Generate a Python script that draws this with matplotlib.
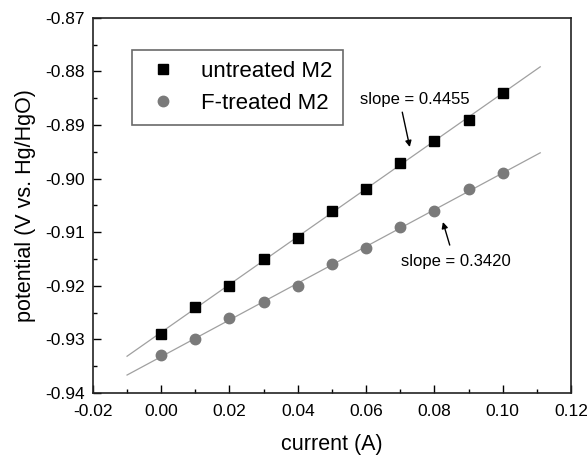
import numpy as np
import matplotlib
matplotlib.use('Agg')
import matplotlib.pyplot as plt
from matplotlib.ticker import MultipleLocator, FormatStrFormatter

plt.rcParams['font.family'] = ['Liberation Sans', 'DejaVu Sans']

# data
current = [0.000, 0.010, 0.020, 0.030, 0.040, 0.050, 0.060, 0.070, 0.080, 0.090, 0.100]
untreated = [-0.929, -0.924, -0.920, -0.915, -0.911, -0.906, -0.902, -0.897, -0.893, -0.889, -0.884]
f_treated = [-0.933, -0.930, -0.926, -0.923, -0.920, -0.916, -0.913, -0.909, -0.906, -0.902, -0.899]
fit_range = [-0.01, 0.111]
labels = ['untreated M2', 'F-treated M2']
slope_texts = ['slope = 0.4455', 'slope = 0.3420']

fig = plt.figure(figsize=(5.88, 4.58), dpi=100)
ax = fig.add_axes([0.158, 0.142, 0.813, 0.819])

xs = np.array(fit_range)
for y in (untreated, f_treated):
  k, b = np.polyfit(current, y, 1)
  ax.plot(xs, k * xs + b, color='#a0a0a0', lw=0.9, zorder=1)

ax.plot(current, untreated, 's', color='black', ms=7, label=labels[0], zorder=3)
ax.plot(current, f_treated, 'o', color='#7a7a7a', ms=7.5, label=labels[1], zorder=3)

arrow = dict(arrowstyle='-|>', color='black', lw=1, mutation_scale=9, shrinkA=0, shrinkB=0)
ax.text(0.0582, -0.8853, slope_texts[0], fontsize=12, va='center', ha='left')
ax.annotate('', xy=(0.0728, -0.8941), xytext=(0.0706, -0.8876), arrowprops=arrow)
ax.text(0.0863, -0.9155, slope_texts[1], fontsize=12, va='center', ha='center')
ax.annotate('', xy=(0.0825, -0.9081), xytext=(0.0845, -0.9124), arrowprops=arrow)

ax.set_xlim(-0.02, 0.12)
ax.set_ylim(-0.94, -0.87)
ax.xaxis.set_major_locator(MultipleLocator(0.02))
ax.xaxis.set_minor_locator(MultipleLocator(0.01))
ax.yaxis.set_major_locator(MultipleLocator(0.01))
ax.yaxis.set_minor_locator(MultipleLocator(0.005))
ax.xaxis.set_major_formatter(FormatStrFormatter('%.2f'))
ax.yaxis.set_major_formatter(FormatStrFormatter('%.2f'))
ax.tick_params(which='both', direction='in', top=False, right=False, labelsize=12.5)
ax.tick_params(axis='x', pad=8)
ax.tick_params(axis='y', pad=6)
ax.tick_params(which='major', length=6, width=1)
ax.tick_params(which='minor', length=3, width=1)
for s in ax.spines.values():
  s.set_color('#222222')
  s.set_linewidth(1.2)

ax.set_xlabel('current (A)', fontsize=15.5, labelpad=11)
ax.set_ylabel('potential (V vs. Hg/HgO)', fontsize=15.5, labelpad=6)

leg = ax.legend(loc='upper left', bbox_to_anchor=(0.082, 0.915), borderaxespad=0,
                fontsize=16, frameon=True, fancybox=False, handletextpad=0.8,
                borderpad=0.5, labelspacing=0.5, handlelength=1.8)
leg.get_frame().set_edgecolor('#444444')
leg.get_frame().set_linewidth(1.2)

fig.savefig('out.png', dpi=100)
